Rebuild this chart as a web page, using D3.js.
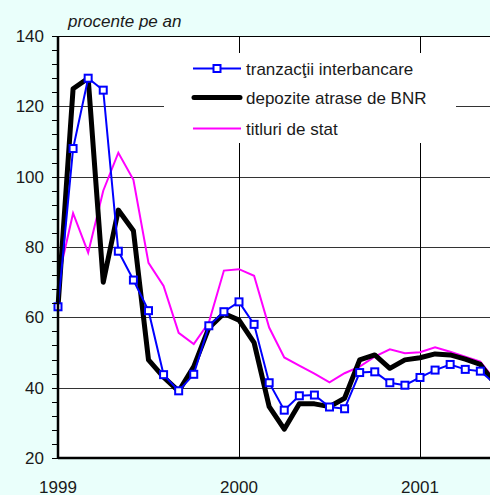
<!DOCTYPE html>
<meta charset="utf-8">
<style>
body { margin: 0; background: #eafffb; }
svg { display: block; font-family: "Liberation Sans", Arial, sans-serif; }
</style>
<svg></svg>
<script src="https://cdn.jsdelivr.net/npm/d3@7"></script>
<script>

var width = 490,
    height = 495;

// monthly observations, Jan 1999 .. Jun 2001
var months = ["1999-01","1999-02","1999-03","1999-04","1999-05","1999-06","1999-07","1999-08","1999-09","1999-10","1999-11","1999-12",
              "2000-01","2000-02","2000-03","2000-04","2000-05","2000-06","2000-07","2000-08","2000-09","2000-10","2000-11","2000-12",
              "2001-01","2001-02","2001-03","2001-04","2001-05","2001-06"];

var interbancare = [63, 108, 128, 124.6, 78.8, 70.6, 61.9, 43.7, 39.1, 43.8, 57.6, 61.6,
                    64.4, 58, 41.4, 33.6, 37.7, 37.9, 34.5, 34, 44.3, 44.5, 41.4, 40.7,
                    42.9, 45, 46.6, 45.2, 44.7, 41];

var depoziteBNR = [63, 125, 128, 70, 90.5, 84.6, 47.9, 43, 39, 46, 57, 61.1,
                   59.2, 52.8, 34.6, 28.2, 35.4, 35.4, 34.6, 37, 47.9, 49.3, 45.5, 47.9,
                   48.5, 49.6, 49.3, 48.1, 46.6, 41];

var titluriStat = [70.6, 89.6, 78.4, 96, 106.8, 99.1, 75.5, 68.9, 55.6, 52.4, 58.5, 73.3,
                   73.7, 71.8, 57.1, 48.6, 46.3, 44, 41.5, 44.1, 46, 48.8, 50.9, 49.8,
                   50.1, 51.5, 50.2, 48.8, 47.4, 42];

var yearLabels = ["1999", "2000", "2001"];
var yearIndex = [0, 12, 24];
var yMajor = [20, 40, 60, 80, 100, 120, 140];
var yMinor = d3.range(20, 141, 4);

var seriesNames = ["tranzacţii interbancare", "depozite atrase de BNR", "titluri de stat"];

var x = d3.scaleLinear()
    .domain([0, 24])
    .range([58, 420]);

var y = d3.scaleLinear()
    .domain([20, 140])
    .range([458, 36]);

var svg = d3.select("svg")
    .attr("width", width)
    .attr("height", height);

// white plot area
svg.append("rect")
    .attr("x", x(0)).attr("y", y(140))
    .attr("width", width - x(0)).attr("height", y(20) - y(140))
    .attr("fill", "#fff");

// horizontal grid
svg.append("g").selectAll("line")
    .data(yMajor.filter(function(d) { return d > 20; }))
  .enter().append("line")
    .attr("x1", x(0)).attr("x2", width)
    .attr("y1", function(d) { return Math.round(y(d)) + 0.5; })
    .attr("y2", function(d) { return Math.round(y(d)) + 0.5; })
    .attr("stroke", function(d) { return d == 140 ? "#000" : "#333"; })
    .attr("stroke-width", 1);

// vertical grid at year starts
svg.append("g").selectAll("line")
    .data(yearIndex.slice(1))
  .enter().append("line")
    .attr("x1", function(d) { return Math.round(x(d)) + 0.5; })
    .attr("x2", function(d) { return Math.round(x(d)) + 0.5; })
    .attr("y1", y(140)).attr("y2", y(20))
    .attr("stroke", "#000");

// legend box covers the grid
svg.append("rect")
    .attr("x", 164).attr("y", 53)
    .attr("width", 292).attr("height", 90)
    .attr("fill", "#fff");

var line = d3.line()
    .x(function(d, i) { return x(i); })
    .y(function(d) { return y(d); });

var plot = svg.append("g");

plot.append("path")
    .datum(titluriStat)
    .attr("d", line)
    .attr("fill", "none")
    .attr("stroke", "#ff00ff")
    .attr("stroke-width", 2);

plot.append("path")
    .datum(depoziteBNR)
    .attr("d", line)
    .attr("fill", "none")
    .attr("stroke", "#000")
    .attr("stroke-width", 5)
    .attr("stroke-linejoin", "round");

plot.append("path")
    .datum(interbancare)
    .attr("d", line)
    .attr("fill", "none")
    .attr("stroke", "#0000ff")
    .attr("stroke-width", 2);

plot.selectAll(".mark")
    .data(interbancare)
  .enter().append("rect")
    .attr("class", "mark")
    .attr("x", function(d, i) { return x(i) - 3.5; })
    .attr("y", function(d) { return y(d) - 3.5; })
    .attr("width", 7).attr("height", 7)
    .attr("fill", "#fff")
    .attr("stroke", "#0000ff")
    .attr("stroke-width", 2);

// axes
var axes = svg.append("g");

axes.append("line")
    .attr("x1", x(0)).attr("x2", x(0))
    .attr("y1", y(140)).attr("y2", y(20) + 1)
    .attr("stroke", "#000").attr("stroke-width", 2.5);

axes.append("line")
    .attr("x1", x(0)).attr("x2", width)
    .attr("y1", y(20)).attr("y2", y(20))
    .attr("stroke", "#000").attr("stroke-width", 2.5);

axes.selectAll(".tick")
    .data(yMinor)
  .enter().append("line")
    .attr("class", "tick")
    .attr("x1", x(0) - 6).attr("x2", x(0))
    .attr("y1", function(d) { return Math.round(y(d)) + 0.5; })
    .attr("y2", function(d) { return Math.round(y(d)) + 0.5; })
    .attr("stroke", "#000");

axes.selectAll(".ylab")
    .data(yMajor)
  .enter().append("text")
    .attr("class", "ylab")
    .attr("x", 44)
    .attr("y", function(d) { return y(d); })
    .attr("dy", "0.36em")
    .attr("text-anchor", "end")
    .attr("font-size", 17)
    .attr("fill", "#1a1a1a")
    .text(function(d) { return d; });

axes.selectAll(".xlab")
    .data(yearLabels)
  .enter().append("text")
    .attr("class", "xlab")
    .attr("x", function(d, i) { return x(yearIndex[i]); })
    .attr("y", 493)
    .attr("text-anchor", "middle")
    .attr("font-size", 17)
    .attr("fill", "#1a1a1a")
    .text(function(d) { return d; });

svg.append("text")
    .attr("x", 68)
    .attr("y", 27)
    .attr("font-size", 17)
    .attr("font-style", "italic")
    .attr("fill", "#1a1a1a")
    .text("procente pe an");

// legend
var legend = svg.append("g");
var rows = [68.5, 97.5, 128.5];

legend.append("line")
    .attr("x1", 193).attr("x2", 241).attr("y1", rows[0]).attr("y2", rows[0])
    .attr("stroke", "#0000ff").attr("stroke-width", 2);
legend.append("rect")
    .attr("x", 217 - 3.5).attr("y", rows[0] - 3.5)
    .attr("width", 7).attr("height", 7)
    .attr("fill", "#fff").attr("stroke", "#0000ff").attr("stroke-width", 2);

legend.append("line")
    .attr("x1", 194).attr("x2", 240).attr("y1", rows[1]).attr("y2", rows[1])
    .attr("stroke", "#000").attr("stroke-width", 5).attr("stroke-linecap", "round");

legend.append("line")
    .attr("x1", 193).attr("x2", 241).attr("y1", rows[2]).attr("y2", rows[2])
    .attr("stroke", "#ff00ff").attr("stroke-width", 2);

legend.selectAll(".ltxt")
    .data(seriesNames)
  .enter().append("text")
    .attr("class", "ltxt")
    .attr("x", 246)
    .attr("y", function(d, i) { return rows[i]; })
    .attr("dy", "0.36em")
    .attr("font-size", 17)
    .attr("fill", "#1a1a1a")
    .text(function(d) { return d; });

</script>
